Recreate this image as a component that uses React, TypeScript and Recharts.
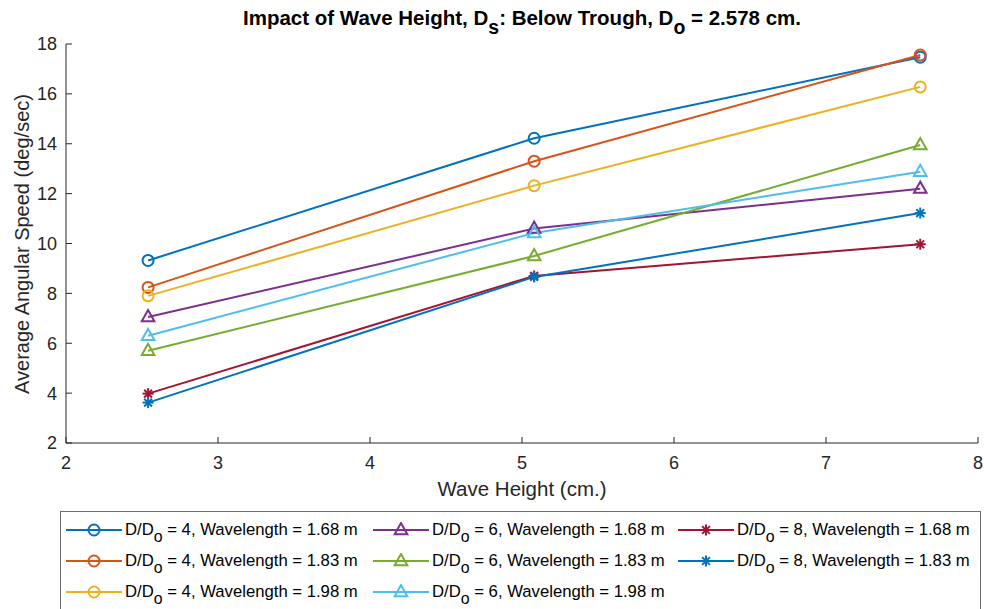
import React from "react";
import { LineChart, Line, XAxis, YAxis } from "recharts";

// wave height in cm (1, 2, 3 inches)
const WAVE_HEIGHT = [2.54, 5.08, 7.62];

// average angular speed (deg/sec) per case
const D4_L168 = [9.32, 14.22, 17.47];
const D4_L183 = [8.24, 13.3, 17.56];
const D4_L198 = [7.9, 12.32, 16.28];
const D6_L168 = [7.05, 10.6, 12.2];
const D6_L183 = [5.7, 9.5, 13.95];
const D6_L198 = [6.3, 10.42, 12.88];
const D8_L168 = [3.98, 8.7, 9.97];
const D8_L183 = [3.62, 8.66, 11.22];

const X_TICKS = [2, 3, 4, 5, 6, 7, 8];
const Y_TICKS = [2, 4, 6, 8, 10, 12, 14, 16, 18];

type Marker = "circle" | "triangle" | "star";

const SERIES: { key: string; ratio: number; wl: string; color: string; marker: Marker; values: number[] }[] = [
  { key: "d4a", ratio: 4, wl: "1.68", color: "#0072BD", marker: "circle", values: D4_L168 },
  { key: "d4b", ratio: 4, wl: "1.83", color: "#D95319", marker: "circle", values: D4_L183 },
  { key: "d4c", ratio: 4, wl: "1.98", color: "#EDB120", marker: "circle", values: D4_L198 },
  { key: "d6a", ratio: 6, wl: "1.68", color: "#7E2F8E", marker: "triangle", values: D6_L168 },
  { key: "d6b", ratio: 6, wl: "1.83", color: "#77AC30", marker: "triangle", values: D6_L183 },
  { key: "d6c", ratio: 6, wl: "1.98", color: "#4DBEEE", marker: "triangle", values: D6_L198 },
  { key: "d8a", ratio: 8, wl: "1.68", color: "#A2142F", marker: "star", values: D8_L168 },
  { key: "d8b", ratio: 8, wl: "1.83", color: "#0072BD", marker: "star", values: D8_L183 },
];

const data = WAVE_HEIGHT.map((x, i) => {
  const row: Record<string, number> = { x };
  SERIES.forEach((s) => (row[s.key] = s.values[i]));
  return row;
});

const FONT = "'Liberation Sans', Arial, Helvetica, sans-serif";
const INK = "#262626";

function MarkerShape({ cx, cy, color, marker }: { cx: number; cy: number; color: string; marker: Marker }) {
  if (marker === "circle") {
    return <circle cx={cx} cy={cy} r={5.5} fill="none" stroke={color} strokeWidth={2} />;
  }
  if (marker === "triangle") {
    const r = 7;
    const pts = `${cx},${cy - r} ${cx - r * 0.9},${cy + r * 0.6} ${cx + r * 0.9},${cy + r * 0.6}`;
    return <polygon points={pts} fill="none" stroke={color} strokeWidth={2} strokeLinejoin="miter" />;
  }
  const r = 5.5;
  const d = r * 0.707;
  return (
    <g stroke={color} strokeWidth={2}>
      <line x1={cx - r} y1={cy} x2={cx + r} y2={cy} />
      <line x1={cx} y1={cy - r} x2={cx} y2={cy + r} />
      <line x1={cx - d} y1={cy - d} x2={cx + d} y2={cy + d} />
      <line x1={cx - d} y1={cy + d} x2={cx + d} y2={cy - d} />
    </g>
  );
}

const Sub = ({ children }: { children: React.ReactNode }) => (
  <span style={{ position: "relative", top: "0.45em", fontSize: "0.95em" }}>{children}</span>
);

function LegendItem({ s }: { s: (typeof SERIES)[number] }) {
  return (
    <div style={{ display: "flex", alignItems: "center", height: 31 }}>
      <svg width={56} height={16} style={{ marginRight: 3 }}>
        <line x1={0} y1={8} x2={56} y2={8} stroke={s.color} strokeWidth={2} />
        <MarkerShape cx={28} cy={8} color={s.color} marker={s.marker} />
      </svg>
      <span>
        D/D<Sub>o</Sub> = {s.ratio}, Wavelength = {s.wl} m
      </span>
    </div>
  );
}

export default function App() {
  const columns = [SERIES.slice(0, 3), SERIES.slice(3, 6), SERIES.slice(6)];
  const colLeft = [5, 312, 617];
  return (
    <div
      style={{
        position: "absolute",
        left: 0,
        top: 0,
        width: 984,
        height: 609,
        overflow: "hidden",
        background: "#fff",
        fontFamily: FONT,
        color: INK,
      }}
    >
      <div
        style={{
          position: "absolute",
          left: 66,
          width: 912,
          top: 6,
          textAlign: "center",
          fontWeight: "bold",
          fontSize: 20.5,
          color: "#000",
        }}
      >
        Impact of Wave Height, D<Sub>s</Sub>: Below Trough, D<Sub>o</Sub> = 2.578 cm.
      </div>

      <LineChart width={984} height={609} data={data} margin={{ top: 44, right: 6, left: 0, bottom: 106 }}>
        <XAxis
          dataKey="x"
          type="number"
          domain={[2, 8]}
          ticks={X_TICKS}
          allowDataOverflow
          height={60}
          tickSize={-6}
          tickMargin={19}
          stroke={INK}
          tick={{ fill: INK, fontSize: 18, fontFamily: FONT }}
        />
        <XAxis
          xAxisId="top"
          orientation="top"
          type="number"
          domain={[2, 8]}
          ticks={X_TICKS}
          height={0}
          tickSize={-6}
          tick={false}
          stroke={INK}
        />
        <YAxis
          type="number"
          domain={[2, 18]}
          ticks={Y_TICKS}
          allowDataOverflow
          width={66}
          tickSize={-6}
          tickMargin={15}
          stroke={INK}
          tick={{ fill: INK, fontSize: 18, fontFamily: FONT }}
        />
        <YAxis
          yAxisId="right"
          orientation="right"
          type="number"
          domain={[2, 18]}
          ticks={Y_TICKS}
          width={0}
          tickSize={-6}
          tick={false}
          stroke={INK}
        />
        {SERIES.map((s) => (
          <Line
            key={s.key}
            dataKey={s.key}
            type="linear"
            stroke={s.color}
            strokeWidth={2}
            isAnimationActive={false}
            activeDot={false}
            dot={(p: any) => (
              <MarkerShape key={`${s.key}-${p.index}`} cx={p.cx} cy={p.cy} color={s.color} marker={s.marker} />
            )}
          />
        ))}
      </LineChart>

      <div
        style={{
          position: "absolute",
          left: 66,
          width: 912,
          top: 477,
          textAlign: "center",
          fontSize: 20.5,
        }}
      >
        Wave Height (cm.)
      </div>
      <div
        style={{
          position: "absolute",
          left: 22,
          top: 244,
          transform: "translate(-50%, -50%) rotate(-90deg)",
          whiteSpace: "nowrap",
          fontSize: 20,
        }}
      >
        Average Angular Speed (deg/sec)
      </div>

      <div
        style={{
          position: "absolute",
          left: 60,
          top: 511,
          width: 919,
          height: 110,
          border: "1px solid #6e6e6e",
          fontSize: 16.7,
          color: "#000",
        }}
      >
        {columns.map((col, ci) => (
          <div key={ci} style={{ position: "absolute", left: colLeft[ci], top: 2 }}>
            {col.map((s) => (
              <LegendItem key={s.key} s={s} />
            ))}
          </div>
        ))}
      </div>
    </div>
  );
}
